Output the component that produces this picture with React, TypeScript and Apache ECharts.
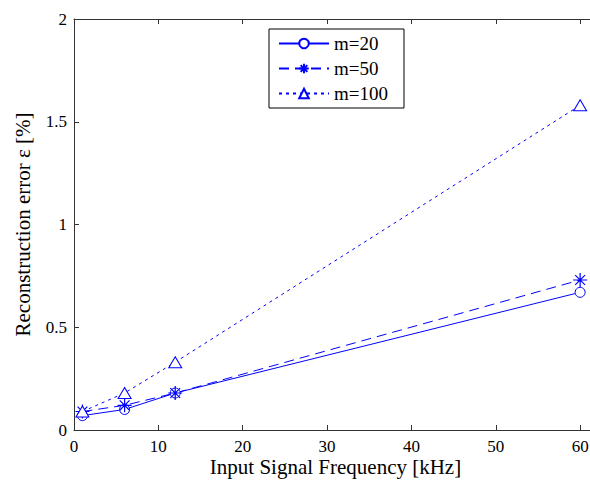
import React, { useEffect, useRef } from "react";
import * as echarts from "echarts";

const freqs = [1, 6, 12, 60];
const m20 = [0.07, 0.1, 0.18, 0.67];
const m50 = [0.09, 0.12, 0.18, 0.73];
const m100 = [0.09, 0.18, 0.33, 1.58];
const seriesNames = ["m=20", "m=50", "m=100"];

const FONT = "Liberation Serif";
const BLUE = "#0000ff";
const STAR =
  "path://M6,0 L6,12 M0,6 L12,6 M1.8,1.8 L10.2,10.2 M1.8,10.2 L10.2,1.8";

export default function App() {
  const ref = useRef<HTMLDivElement>(null);
  useEffect(() => {
    if (!ref.current) return;
    const chart = echarts.init(ref.current, undefined, { renderer: "svg" });
    const pts = (ys: number[]) => freqs.map((x, i) => [x, ys[i]]);
    const axisLine = { show: true, lineStyle: { color: "#333", width: 1 } };
    chart.setOption({
      animation: false,
      backgroundColor: "#fff",
      textStyle: { fontFamily: FONT },
      grid: { left: 74, top: 19, width: 523, height: 411, outerBoundsMode: "none", containLabel: false },
      legend: {
        orient: "vertical",
        left: 269,
        top: 29,
        padding: [5, 16, 5, 9],
        itemGap: 6,
        itemWidth: 50,
        itemHeight: 12,
        borderColor: "#000",
        borderWidth: 1,
        backgroundColor: "#fff",
        textStyle: { fontFamily: FONT, fontSize: 19, color: "#000" },
        data: seriesNames,
      },
      xAxis: [
        {
          type: "value",
          min: 0,
          max: 62,
          interval: 10,
          name: "Input Signal Frequency [kHz]",
          nameLocation: "middle",
          nameGap: 26,
          nameMoveOverlap: false,
          nameTextStyle: { fontFamily: FONT, fontSize: 21, color: "#000", verticalAlign: "top" },
          axisLine,
          axisTick: { inside: true, length: 5, lineStyle: { color: "#333" } },
          axisLabel: {
            fontFamily: FONT,
            fontSize: 17,
            color: "#000",
            margin: 8,
            formatter: (v: number) => (v % 10 === 0 ? String(v) : ""),
          },
          splitLine: { show: false },
        },
        {
          type: "value",
          position: "top",
          min: 0,
          max: 62,
          interval: 10,
          axisLine,
          axisTick: { inside: true, length: 5, lineStyle: { color: "#333" } },
          axisLabel: { show: false },
          splitLine: { show: false },
        },
      ],
      yAxis: [
        {
          type: "value",
          min: 0,
          max: 2,
          interval: 0.5,
          name: "Reconstruction error ε [%]",
          nameLocation: "middle",
          nameGap: 41,
          nameMoveOverlap: false,
          nameRotate: 90,
          nameTextStyle: { fontFamily: FONT, fontSize: 21, color: "#000" },
          axisLine,
          axisTick: { inside: true, length: 5, lineStyle: { color: "#333" } },
          axisLabel: { fontFamily: FONT, fontSize: 17, color: "#000", margin: 7 },
          splitLine: { show: false },
        },
      ],
      series: [
        {
          name: seriesNames[0],
          type: "line",
          data: pts(m20),
          symbol: "circle",
          symbolSize: 10,
          lineStyle: { color: BLUE, width: 1, type: "solid" },
          itemStyle: { color: "#fff", borderColor: BLUE, borderWidth: 1 },
        },
        {
          name: seriesNames[1],
          type: "line",
          data: pts(m50),
          symbol: STAR,
          symbolSize: 14,
          lineStyle: { color: BLUE, width: 1, type: [10, 6] },
          itemStyle: { color: "none", borderColor: BLUE, borderWidth: 1.2 },
        },
        {
          name: seriesNames[2],
          type: "line",
          data: pts(m100),
          symbol: "triangle",
          symbolSize: [13, 11],
          lineStyle: { color: BLUE, width: 1, type: [3, 4] },
          itemStyle: { color: "#fff", borderColor: BLUE, borderWidth: 1 },
        },
      ],
    });
    return () => chart.dispose();
  }, []);
  return (
    <div
      ref={ref}
      style={{ position: "absolute", left: 0, top: 0, width: 590, height: 481, background: "#fff", overflow: "hidden" }}
    />
  );
}
